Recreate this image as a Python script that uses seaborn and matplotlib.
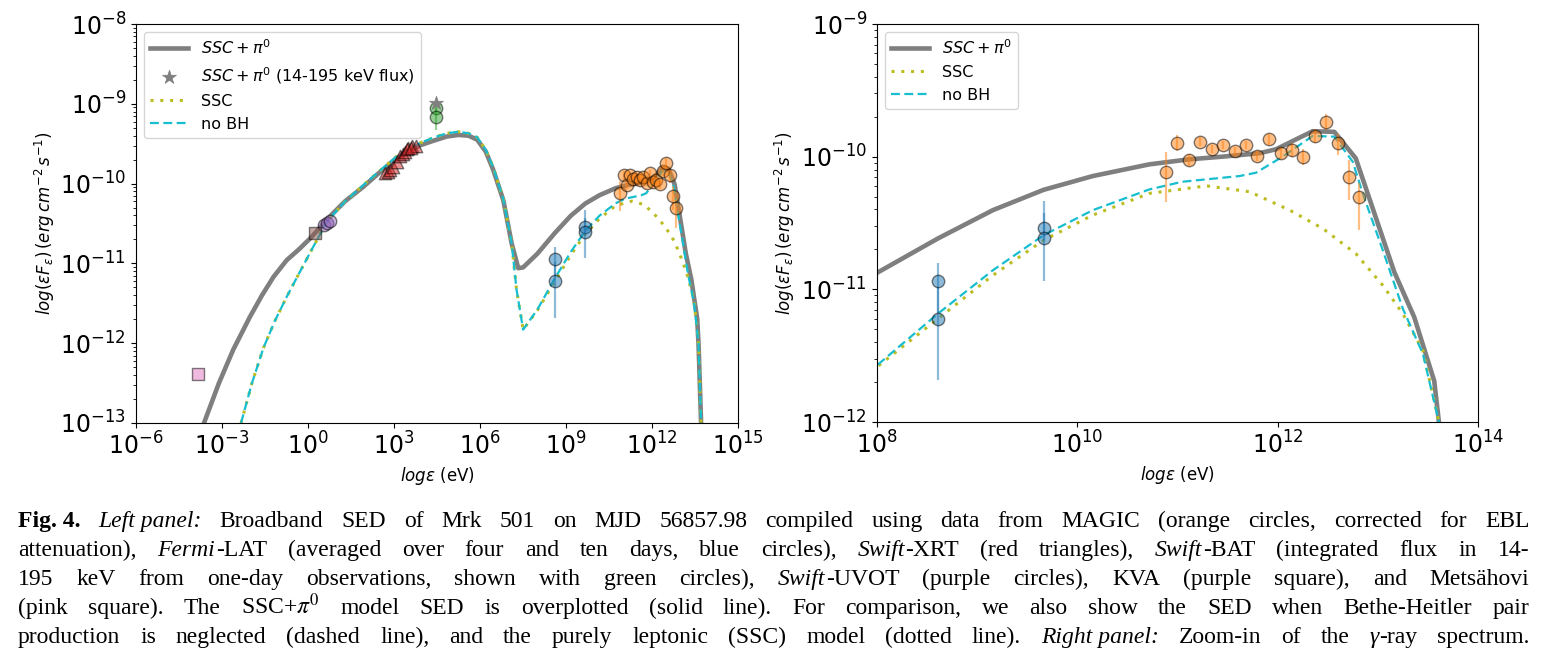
import re
import numpy as np
import pandas as pd
import matplotlib
matplotlib.use("Agg")
import matplotlib.pyplot as plt
import seaborn as sns
from matplotlib.ticker import NullLocator

# ---------------- data (log10 values) ----------------
# SSC + pi0 model (solid gray)
ssc_pi0_logE = [-3.62, -3.1, -2.6, -2.02, -1.6, -1.2, -0.74, -0.3, 0.07, 0.4, 0.77, 1.3, 1.93,
                2.5, 3.09, 3.91, 4.4, 4.84, 5.24, 5.6, 5.9, 6.2, 6.46, 6.81, 7.10, 7.33, 7.50,
                8.0, 8.61, 9.16, 9.665, 10.157, 10.72, 11.12, 11.45, 11.82, 11.985, 12.35,
                12.566, 12.78, 13.165, 13.364, 13.563, 13.61, 13.70]
ssc_pi0_logF = [-13.0, -12.5, -12.08, -11.67, -11.4, -11.17, -10.96, -10.82, -10.69, -10.56, -10.41,
                -10.22, -10.04, -9.86, -9.68, -9.52, -9.46, -9.41, -9.39, -9.40, -9.45, -9.60, -9.83,
                -10.21, -10.75, -11.06, -11.05, -10.877, -10.617, -10.403, -10.25, -10.146,
                -10.058, -10.02, -10.0, -9.974, -9.944, -9.808, -9.813, -10.012, -10.87, -11.21,
                -11.69, -12.0, -13.0]

# no Bethe-Heitler model (dashed cyan)
nobh_logE = [-2.33, -1.95, -1.55, -1.15, -0.74, -0.3, 0.07, 0.4, 0.655, 1.3, 1.93, 2.5, 3.09, 3.91,
             4.4, 4.84, 5.24, 5.6, 5.9, 6.2, 6.46, 6.81, 7.10, 7.27, 7.50, 8.0, 8.61, 9.16, 9.665,
             10.157, 10.72, 11.05, 11.62, 11.785, 12.05, 12.35, 12.566, 12.75, 12.85, 13.05,
             13.25, 13.45, 13.61, 13.70]
nobh_logF = [-13.0, -12.5, -12.06, -11.72, -11.42, -11.12, -10.87, -10.65, -10.48, -10.22, -10.02,
             -9.84, -9.66, -9.49, -9.42, -9.37, -9.35, -9.37, -9.42, -9.58, -9.80, -10.20, -10.75,
             -11.33, -11.83, -11.575, -11.184, -10.856, -10.592, -10.403, -10.247, -10.189,
             -10.146, -10.121, -10.0, -9.844, -9.849, -10.038, -10.277, -10.705, -11.146,
             -11.486, -12.0, -13.0]

# purely leptonic SSC model (dotted olive)
ssc_logE = [-2.33, -1.95, -1.55, -1.15, -0.74, -0.3, 0.07, 0.4, 0.655, 1.3, 1.93, 2.5, 3.09, 3.91,
            4.4, 4.84, 5.24, 5.6, 5.9, 6.2, 6.46, 6.81, 7.10, 7.27, 7.50, 8.0, 8.61, 9.16, 9.665,
            10.157, 10.72, 11.29, 11.72, 12.12, 12.45, 12.78, 13.05, 13.25, 13.45, 13.61, 13.70]
ssc_logF = [-13.0, -12.5, -12.06, -11.72, -11.42, -11.12, -10.87, -10.65, -10.48, -10.22, -10.02,
            -9.84, -9.66, -9.49, -9.42, -9.37, -9.35, -9.37, -9.42, -9.58, -9.80, -10.20, -10.75,
            -11.33, -11.83, -11.587, -11.222, -10.894, -10.63, -10.44, -10.277, -10.22, -10.264,
            -10.403, -10.541, -10.73, -10.97, -11.184, -11.461, -12.0, -13.0]

# MAGIC (orange circles)
magic_logE = [10.888, 11.001, 11.118, 11.230, 11.343, 11.460, 11.573, 11.682, 11.799, 11.918,
              12.031, 12.144, 12.257, 12.374, 12.484, 12.600, 12.716, 12.816]
magic_logF = [-10.118, -9.894, -10.023, -9.887, -9.940, -9.912, -9.957, -9.912, -9.992, -9.869,
              -9.974, -9.949, -10.005, -9.844, -9.738, -9.894, -10.151, -10.305]
magic_logF_lo = [-10.34, -9.955, -10.07, -9.92, -9.97, -9.94, -9.99, -9.94, -10.03, -9.91,
                 -10.02, -10.0, -10.065, -9.90, -9.80, -9.99, -10.327, -10.554]
magic_logF_hi = [-9.962, -9.837, -9.98, -9.855, -9.91, -9.88, -9.925, -9.88, -9.955, -9.83,
                 -9.93, -9.90, -9.945, -9.79, -9.68, -9.83, -10.025, -10.201]

# Fermi-LAT (blue circles)
fermi_logE = [8.61, 8.61, 9.665, 9.665]
fermi_logF = [-10.94, -11.22, -10.54, -10.61]
fermi_logF_lo = [-11.18, -11.68, -10.63, -10.937]
fermi_logF_hi = [-10.80, -10.985, -10.335, -10.426]

# Swift-XRT (red triangles)
xrt_logE = [2.69, 2.80, 2.86, 2.98, 3.09, 3.21, 3.30, 3.38, 3.50, 3.62, 3.77, 3.45, 3.60]
xrt_logF = [-9.87, -9.85, -9.83, -9.79, -9.725, -9.66, -9.63, -9.60, -9.56, -9.53, -9.53, -9.57, -9.55]

# Swift-BAT (green circles) and model flux in 14-195 keV (gray star)
bat_logE = [4.46, 4.46]
bat_logF = [-9.057, -9.17]
bat_logF_lo = [-9.10, -9.33]
bat_logF_hi = [-9.02, -9.05]
star_logE = [4.46]
star_logF = [-8.99]

# Swift-UVOT (purple circles), KVA (brown square), Metsahovi (pink square)
uvot_logE = [0.55, 0.68, 0.78]
uvot_logF = [-10.52, -10.49, -10.47]
kva_logE = [0.25]
kva_logF = [-10.615]
metsa_logE = [-3.84]
metsa_logF = [-12.39]

# "~" marks a space kept inside one text piece
caption_lines = [
    "**Fig.~4.** *Left~panel:* Broadband SED of Mrk 501 on MJD 56857.98 compiled using data from MAGIC (orange circles, corrected for EBL",
    "attenuation), *Fermi*-LAT (averaged over four and ten days, blue circles), *Swift*-XRT (red triangles), *Swift*-BAT (integrated flux in 14-",
    "195 keV from one-day observations, shown with green circles), *Swift*-UVOT (purple circles), KVA (purple square), and Metsähovi",
    "(pink square). The SSC+$\\pi^0$ model SED is overplotted (solid line). For comparison, we also show the SED when Bethe-Heitler pair",
    "production is neglected (dashed line), and the purely leptonic (SSC) model (dotted line). *Right~panel:* Zoom-in of the *γ*-ray spectrum.",
]

# ---------------- figure ----------------
W, H = 1543, 663
fig = plt.figure(figsize=(W / 100, H / 100), dpi=100)


def px_axes(x0, y0, x1, y1):
    return fig.add_axes([x0 / W, 1 - y1 / H, (x1 - x0) / W, (y1 - y0) / H])


axL = px_axes(135.7, 24, 738.4, 423)
axR = px_axes(876.7, 24, 1478, 422)


def P(a):
    return 10.0 ** np.asarray(a, dtype=float)


def points(ax, le, lf, color, marker, size, lo=None, hi=None):
    x, y = P(le), P(lf)
    if lo is not None:
        ax.errorbar(x, y, yerr=[y - P(lo), P(hi) - y], fmt="none", ecolor=color,
                    alpha=0.5, elinewidth=1.6, zorder=3)
    sns.scatterplot(x=x, y=y, ax=ax, color=color, marker=marker, s=size, alpha=0.5,
                    edgecolor="k", linewidth=1.0, zorder=4, legend=False)


def draw(ax, with_star):
    sns.lineplot(x=P(ssc_pi0_logE), y=P(ssc_pi0_logF), ax=ax, color="#7f7f7f", lw=3.3,
                 sort=False, estimator=None, label=r"$SSC+\pi^0$", zorder=2)
    if with_star:
        sns.scatterplot(x=P(star_logE), y=P(star_logF), ax=ax, color="#7f7f7f", marker="*",
                        s=110, linewidth=0.5, edgecolor="#7f7f7f",
                        label=r"$SSC+\pi^0$ (14-195 keV flux)", zorder=5)
    sns.lineplot(x=P(ssc_logE), y=P(ssc_logF), ax=ax, color="#bcbd22", lw=2.2,
                 linestyle=(0, (1, 2.2)), sort=False, estimator=None, label="SSC", zorder=2)
    sns.lineplot(x=P(nobh_logE), y=P(nobh_logF), ax=ax, color="#17becf", lw=1.6,
                 linestyle=(0, (4, 2)), sort=False, estimator=None, label="no BH", zorder=2)

    points(ax, magic_logE, magic_logF, "#ff7f0e", "o", 80, magic_logF_lo, magic_logF_hi)
    points(ax, fermi_logE, fermi_logF, "#1f77b4", "o", 80, fermi_logF_lo, fermi_logF_hi)
    if with_star:
        points(ax, xrt_logE, xrt_logF, "#d62728", "^", 80)
        points(ax, bat_logE, bat_logF, "#2ca02c", "o", 80, bat_logF_lo, bat_logF_hi)
        points(ax, uvot_logE, uvot_logF, "#9467bd", "o", 80)
        points(ax, kva_logE, kva_logF, "#8c564b", "s", 75)
        points(ax, metsa_logE, metsa_logF, "#e377c2", "s", 75)

    ax.set_xscale("log")
    ax.set_yscale("log")
    ax.set_xlabel(r"$log\epsilon$ (eV)", fontsize=12)
    ax.set_ylabel(r"$log(\epsilon F_\epsilon)\,(erg\,cm^{-2}\,s^{-1})$", fontsize=12)
    ax.tick_params(axis="both", which="major", labelsize=17)
    ax.xaxis.set_minor_locator(NullLocator())
    h, l = ax.get_legend_handles_labels()
    ax.legend(h, l, loc="upper left", fontsize=11.5, handlelength=2.4)


draw(axL, True)
axL.set_xlim(1e-6, 1e15)
axL.set_ylim(1e-13, 1e-8)
axL.set_xticks(10.0 ** np.arange(-6, 16, 3))
axL.xaxis.set_minor_locator(NullLocator())
axL.yaxis.set_label_coords(-0.130, 0.5)

draw(axR, False)
axR.set_xlim(1e8, 1e14)
axR.set_ylim(1e-12, 1e-9)
axR.set_xticks(10.0 ** np.arange(8, 15, 2))
axR.xaxis.set_minor_locator(NullLocator())
axR.yaxis.set_label_coords(-0.132, 0.5)

# ---------------- caption (justified, mixed styles, one text per word piece) ----------------
def parse(line):
    segs = []
    for m in re.finditer(r"\*\*(.+?)\*\*|\*(.+?)\*|([^*]+)", line):
        if m.group(1):
            segs.append((m.group(1), "bold"))
        elif m.group(2):
            segs.append((m.group(2), "italic"))
        else:
            segs.append((m.group(3), "normal"))
    words = [[]]
    for txt, st in segs:
        parts = txt.split(" ")
        for i, p in enumerate(parts):
            if i > 0:
                words.append([])
            if p:
                words[-1].append((p.replace("~", " "), st))
    return [w for w in words if w]


fam = ["Liberation Serif", "DejaVu Serif"]
renderer = fig.canvas.get_renderer()
FS = 17.0


def style_kw(st):
    kw = dict(fontsize=FS, family=fam, math_fontfamily="stix")
    if st == "bold":
        kw["weight"] = "bold"
    if st == "italic":
        kw["style"] = "italic"
    return kw


def measure(txt, st):
    t = fig.text(0, 0, txt, **style_kw(st))
    w = t.get_window_extent(renderer).width
    t.remove()
    return w


L, R = 18, 1530
base0, step = 527, 29
for k, line in enumerate(caption_lines):
    ws = parse(line)
    widths = [[measure(t, s) + 0.6 for t, s in w] for w in ws]
    total = sum(sum(w) for w in widths)
    gap = (R - L - total) / (len(ws) - 1)
    x = L
    yb = base0 + k * step
    for w, wl in zip(ws, widths):
        for (t, s), wt in zip(w, wl):
            fig.text(x / W, 1 - yb / H, t, va="baseline", ha="left", **style_kw(s))
            x += wt
        x += gap

fig.savefig("out.png", dpi=100)
